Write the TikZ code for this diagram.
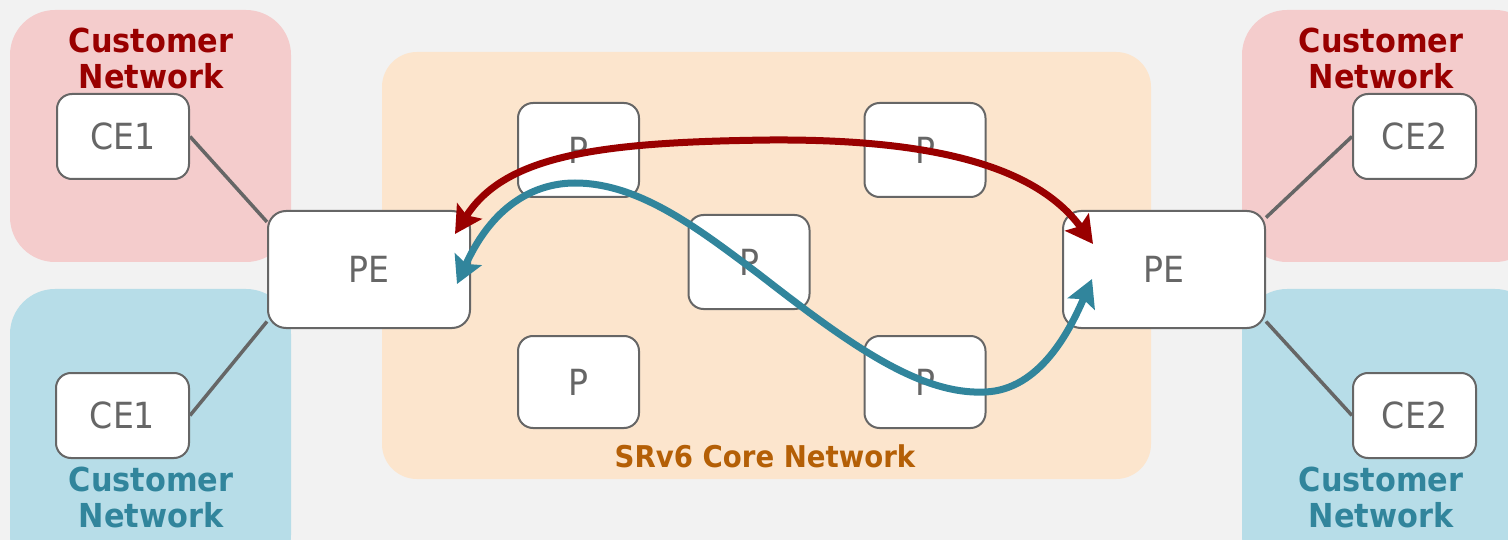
\documentclass[tikz,border=0pt]{standalone}
\usepackage{fontspec}
\setmainfont{DejaVu Sans}[FakeStretch=0.92]
\usetikzlibrary{arrows.meta,calc}

\definecolor{bgcol}{HTML}{F2F2F2}
\definecolor{pinkzone}{HTML}{F4CCCC}
\definecolor{bluezone}{HTML}{B7DDE8}
\definecolor{corezone}{HTML}{FCE5CD}
\definecolor{darkred}{HTML}{990000}
\definecolor{teal}{HTML}{31859C}
\definecolor{coretext}{HTML}{B45F06}
\definecolor{edgegray}{HTML}{666666}

\tikzset{
  zone/.style={rounded corners=45pt},
  device/.style={draw=edgegray, line width=2pt, fill=white, rounded corners=15pt,
    inner sep=0pt, text=edgegray, font=\fontsize{36}{42}\selectfont},
  pebox/.style={device, minimum width=202pt, minimum height=117pt, rounded corners=18pt},
  cebox/.style={device, minimum height=85pt},
  pbox/.style={device, minimum width=121pt},
  zonelabel/.style={font=\bfseries\fontsize{33}{36}\selectfont, align=center, inner sep=0pt},
  link/.style={draw=edgegray, line width=3.5pt},
  flow/.style={line width=7pt, {Stealth[length=27pt,width=29pt,inset=5pt]}-{Stealth[length=27pt,width=29pt,inset=5pt]}},
}

\begin{document}
\begin{tikzpicture}[x=1pt,y=-1pt]
  % canvas
  \fill[bgcol] (0,0) rectangle (1508,540);
  \useasboundingbox (0,0) rectangle (1508,540);

  % customer sites and provider core
  \fill[pinkzone, zone] (10,10) rectangle (291,262);
  \fill[bluezone, zone] (10,289) rectangle (291,580);
  \fill[pinkzone, zone] (1242,10) rectangle (1540,262);
  \fill[bluezone, zone] (1242,289) rectangle (1540,580);
  \fill[corezone, rounded corners=35pt] (382,52) rectangle (1151,479);

  % zone captions (anchored on the baseline of the second line)
  \node[zonelabel, text=darkred, anchor=base] (capTL) at (151,89) {Customer\\Network};
  \node[zonelabel, text=darkred, anchor=base] (capTR) at (1381,89) {Customer\\Network};
  \node[zonelabel, text=teal, anchor=base] (capBL) at (151,527) {Customer\\Network};
  \node[zonelabel, text=teal, anchor=base] (capBR) at (1381,527) {Customer\\Network};
  \node[font=\bfseries\fontsize{30}{34}\selectfont, text=coretext, anchor=base, inner sep=0pt]
    (capCore) at (765,467) {SRv6 Core Network};

  % customer edge routers
  \node[cebox, minimum width=132pt] (ce1a) at (123,136.5) {CE1};
  \node[cebox, minimum width=133pt] (ce1b) at (122.5,415.5) {CE1};
  \node[cebox, minimum width=123pt] (ce2a) at (1414.5,136.5) {CE2};
  \node[cebox, minimum width=123pt] (ce2b) at (1414.5,415.5) {CE2};

  % provider edge routers
  \node[pebox] (pel) at (369,269.5) {PE};
  \node[pebox] (per) at (1164,269.5) {PE};

  % core routers
  \node[pbox, minimum height=94pt] (p1) at (578.5,150) {P};
  \node[pbox, minimum height=94pt] (p2) at (925,150) {P};
  \node[pbox, minimum height=94pt] (p3) at (749,262) {P};
  \node[pbox, minimum height=92pt] (p4) at (578.5,382) {P};
  \node[pbox, minimum height=92pt] (p5) at (925,382) {P};

  % attachment circuits
  \draw[link] (ce1a.east) -- (pel.155);
  \draw[link] (ce1b.east) -- (pel.207);
  \draw[link] (ce2a.west) -- (per.27.5);
  \draw[link] (ce2b.west) -- (per.-27);

  % end points of the service paths
  \coordinate (redL) at ($(pel.center)+(86,-35.5)$);
  \coordinate (redR) at ($(per.center)+(-71,-25.5)$);
  \coordinate (blueL) at ($(pel.center)+(88,14.5)$);
  \coordinate (blueR) at ($(per.center)+(-72,9.5)$);

  % service paths across the core
  \draw[flow, darkred] (redL) .. controls (505,155) and (600,142) .. (770,140)
    .. controls (930,139) and (1035,165) .. (redR);
  \draw[flow, teal] (blueL) .. controls (495,200) and (540,183) .. (575,183)
    .. controls (640,183) and (700,230) .. (760,275)
    .. controls (850,345) and (920,395) .. (985,392)
    .. controls (1040,390) and (1070,330) .. (blueR);
\end{tikzpicture}
\end{document}
